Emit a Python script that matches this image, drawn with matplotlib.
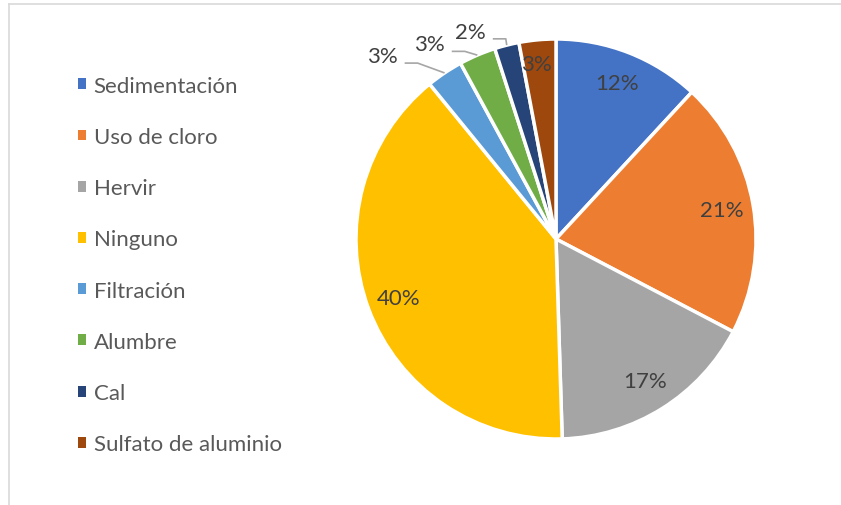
import matplotlib
matplotlib.use("Agg")
import matplotlib.pyplot as plt
import numpy as np
from matplotlib.lines import Line2D
from matplotlib.patches import Patch

categories = ["Sedimentación", "Uso de cloro", "Hervir", "Ninguno",
              "Filtración", "Alumbre", "Cal", "Sulfato de aluminio"]
values = [12, 21, 17, 40, 3, 3, 2, 3]
colors = ["#4472C4", "#ED7D31", "#A5A5A5", "#FFC000",
          "#5B9BD5", "#70AD47", "#264478", "#9E480E"]

plt.rcParams['font.family'] = ['Lato', 'DejaVu Sans']
TXT = "#595959"
FS = 16

W, H = 841, 506
fig = plt.figure(figsize=(W / 100, H / 100), dpi=100)

# border (top and left lines)
fig.add_artist(Line2D([9 / W, 9 / W], [0, 1 - 5 / H], color="#D9D9D9", lw=1.2))
fig.add_artist(Line2D([9 / W, 1], [1 - 5 / H, 1 - 5 / H], color="#D9D9D9", lw=1.2))

cx, cy, r = 556, 240, 200
ax = fig.add_axes([(cx - r) / W, (H - cy - r) / H, 2 * r / W, 2 * r / H])

wedges, texts, autotexts = ax.pie(
    values, colors=colors, startangle=90, counterclock=False,
    autopct='%.0f%%', pctdistance=0.84,
    wedgeprops=dict(edgecolor="white", linewidth=2.5),
    textprops=dict(color="#404040", fontsize=FS))
ax.set_xlim(-1, 1)
ax.set_ylim(-1, 1)
ax.set_aspect('equal')
ax.axis('off')

# brown slice label
w = wedges[7]
ang = np.deg2rad((w.theta1 + w.theta2) / 2 + 1)
autotexts[7].set_position((0.88 * np.cos(ang), 0.88 * np.sin(ang)))

# outside labels with leader lines for small slices
outside = {4: (1.26, 9.6), 5: (1.16, 9.8), 6: (1.12, 8.1)}
for i, (rr, dang) in outside.items():
    w = wedges[i]
    mid = np.deg2rad((w.theta1 + w.theta2) / 2)
    la = mid + np.deg2rad(dang)
    lx, ly = rr * np.cos(la), rr * np.sin(la)
    autotexts[i].set_position((lx, ly))
    autotexts[i].set_ha('center')
    sx, sy = lx + 0.11, ly - 0.035
    ex, ey = 1.0 * np.cos(mid), 1.0 * np.sin(mid)
    ax.plot([sx, sx + 0.065, ex], [sy, sy, ey], color="#A6A6A6", lw=1.2,
            clip_on=False, solid_capstyle='butt')

handles = [Patch(facecolor=c, edgecolor='none') for c in colors]
fig.legend(handles, categories, loc='center left',
           bbox_to_anchor=(78 / W, (H - 266) / H), frameon=False,
           fontsize=FS, labelcolor=TXT, handlelength=0.38, handleheight=0.38,
           handletextpad=0.32, labelspacing=1.405, borderpad=0, borderaxespad=0)

fig.savefig("out.png", dpi=100)
